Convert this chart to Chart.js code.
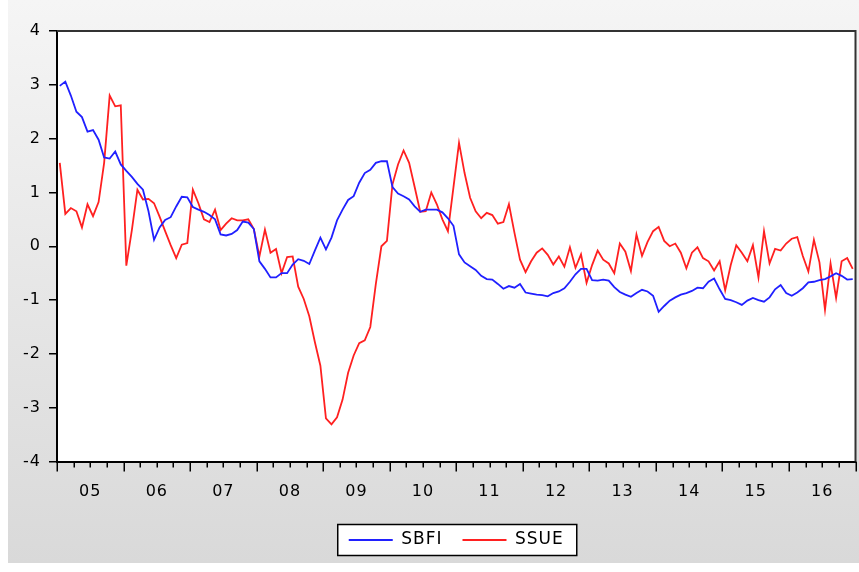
<!DOCTYPE html>
<html>
<head>
<meta charset="utf-8">
<script src="https://cdn.jsdelivr.net/npm/chart.js@4.4.1/dist/chart.umd.min.js"></script>
<style>
  html, body { margin: 0; padding: 0; background: #fff; }
  #wrap { width: 859px; height: 572px; }
</style>
</head>
<body>
<div id="wrap"><canvas id="chart" width="859" height="572"></canvas></div>
<script>
// Monthly series, 2005m1 .. 2016m12
const yearLabels = ['05', '06', '07', '08', '09', '10', '11', '12', '13', '14', '15', '16'];

const sbfi = [
  2.98, 3.06, 2.80, 2.50, 2.40, 2.13, 2.16, 1.98, 1.65, 1.63, 1.76, 1.52,
  1.40, 1.29, 1.16, 1.05, 0.65, 0.12, 0.35, 0.49, 0.54, 0.74, 0.92, 0.91,
  0.73, 0.68, 0.64, 0.58, 0.50, 0.22, 0.20, 0.23, 0.30, 0.46, 0.44, 0.32,
  -0.28, -0.42, -0.58, -0.58, -0.50, -0.50, -0.34, -0.24, -0.27, -0.33, -0.08, 0.16,
  -0.06, 0.16, 0.48, 0.68, 0.86, 0.93, 1.18, 1.36, 1.42, 1.55, 1.58, 1.58,
  1.10, 0.98, 0.93, 0.87, 0.74, 0.64, 0.68, 0.68, 0.68, 0.63, 0.52, 0.38,
  -0.15, -0.30, -0.37, -0.44, -0.55, -0.61, -0.62, -0.70, -0.79, -0.74, -0.77, -0.70,
  -0.86, -0.88, -0.90, -0.91, -0.93, -0.87, -0.84, -0.78, -0.66, -0.52, -0.42, -0.42,
  -0.63, -0.64, -0.62, -0.64, -0.76, -0.85, -0.90, -0.94, -0.87, -0.81, -0.84, -0.92,
  -1.22, -1.11, -1.01, -0.95, -0.90, -0.87, -0.83, -0.77, -0.78, -0.66, -0.60, -0.80,
  -0.98, -1.00, -1.04, -1.09, -1.01, -0.96, -1.00, -1.03, -0.95, -0.80, -0.72, -0.87,
  -0.92, -0.86, -0.78, -0.67, -0.66, -0.63, -0.61, -0.56, -0.50, -0.55, -0.62, -0.61
];

const ssue = [
  1.55, 0.60, 0.71, 0.65, 0.35, 0.78, 0.56, 0.82, 1.55, 2.80, 2.60, 2.62,
  -0.36, 0.30, 1.05, 0.87, 0.88, 0.80, 0.55, 0.28, 0.02, -0.22, 0.03, 0.06,
  1.05, 0.80, 0.50, 0.45, 0.68, 0.30, 0.42, 0.52, 0.48, 0.48, 0.50, 0.32,
  -0.19, 0.31, -0.12, -0.05, -0.50, -0.20, -0.19, -0.75, -0.98, -1.30, -1.78, -2.22,
  -3.20, -3.31, -3.18, -2.85, -2.35, -2.03, -1.80, -1.75, -1.50, -0.70, 0.00, 0.10,
  1.15, 1.52, 1.78, 1.55, 1.10, 0.64, 0.65, 1.00, 0.78, 0.50, 0.28, 1.10,
  1.92, 1.36, 0.90, 0.65, 0.52, 0.62, 0.58, 0.42, 0.45, 0.78, 0.25, -0.25,
  -0.48, -0.28, -0.12, -0.04, -0.16, -0.34, -0.19, -0.38, -0.02, -0.40, -0.15, -0.68,
  -0.35, -0.08, -0.25, -0.32, -0.50, 0.05, -0.10, -0.46, 0.22, -0.18, 0.08, 0.28,
  0.36, 0.10, 0.00, 0.05, -0.12, -0.41, -0.12, -0.02, -0.22, -0.28, -0.45, -0.28,
  -0.82, -0.35, 0.02, -0.12, -0.28, 0.02, -0.58, 0.28, -0.32, -0.05, -0.08, 0.05,
  0.14, 0.17, -0.18, -0.47, 0.12, -0.30, -1.18, -0.32, -0.96, -0.28, -0.22, -0.42
];

// each month sits in the middle of its slot on a 0..144 month axis
const toPoints = arr => arr.map((v, i) => ({ x: i + 0.5, y: v }));

Chart.defaults.font.family = '"DejaVu Sans", sans-serif';
Chart.defaults.font.size = 16;
Chart.defaults.color = '#000';

// gray window, white plot, legend frame, quarter/year tick marks
const eviewsFrame = {
  id: 'eviewsFrame',
  beforeUpdate(chart) {
    chart.ctx.letterSpacing = '1px';
  },
  beforeDraw(chart) {
    const ctx = chart.ctx;
    const a = chart.chartArea;
    ctx.save();
    ctx.fillStyle = '#fff';
    ctx.fillRect(0, 0, chart.width, chart.height);
    const g = ctx.createLinearGradient(0, 0, 0, 563);
    g.addColorStop(0, '#f5f5f5');
    g.addColorStop(1, '#d9d9d9');
    ctx.fillStyle = g;
    ctx.fillRect(8, 0, chart.width - 8, 563);
    ctx.fillStyle = '#fff';
    ctx.fillRect(a.left, a.top, a.right - a.left, a.bottom - a.top);

    const hb = chart.legend.legendHitBoxes;
    if (hb && hb.length) {
      const left = Math.min(...hb.map(b => b.left)) - 11;
      const right = Math.max(...hb.map(b => b.left + b.width)) + 13;
      const top = hb[0].top - 7;
      const bottom = hb[0].top + hb[0].height + 7;
      ctx.fillStyle = '#fff';
      ctx.fillRect(left, top, right - left, bottom - top);
      ctx.strokeStyle = '#000';
      ctx.lineWidth = 1.5;
      ctx.strokeRect(left, top, right - left, bottom - top);
    }
    ctx.restore();
  },
  afterDraw(chart) {
    const ctx = chart.ctx;
    const a = chart.chartArea;
    const xs = chart.scales.x;
    ctx.save();
    // top and right edges of the plot box
    ctx.strokeStyle = '#333';
    ctx.lineWidth = 2;
    ctx.beginPath();
    ctx.moveTo(a.left, a.top);
    ctx.lineTo(a.right, a.top);
    ctx.lineTo(a.right, a.bottom);
    ctx.stroke();
    // month-axis ticks: long at year starts, short at quarters
    ctx.strokeStyle = '#000';
    ctx.lineWidth = 1.5;
    ctx.beginPath();
    xs.ticks.forEach(t => {
      const px = Math.round(xs.getPixelForValue(t.value)) + 0.25;
      const len = t.value % 12 === 0 ? 10 : 6;
      ctx.moveTo(px, a.bottom);
      ctx.lineTo(px, a.bottom + len);
    });
    ctx.stroke();
    ctx.restore();
  }
};

new Chart(document.getElementById('chart'), {
  type: 'line',
  data: {
    datasets: [
      {
        label: 'SBFI',
        data: toPoints(sbfi),
        borderColor: '#2020ff',
        backgroundColor: '#2020ff',
        borderWidth: 1.8,
        pointRadius: 0,
        tension: 0
      },
      {
        label: 'SSUE',
        data: toPoints(ssue),
        borderColor: '#ff2020',
        backgroundColor: '#ff2020',
        borderWidth: 1.8,
        pointRadius: 0,
        tension: 0
      }
    ]
  },
  options: {
    responsive: false,
    devicePixelRatio: 1,
    animation: false,
    events: [],
    layout: { padding: { left: 0, right: 3.5, top: 31, bottom: 13.5 } },
    plugins: {
      tooltip: { enabled: false },
      legend: {
        position: 'bottom',
        fullSize: false,
        labels: {
          usePointStyle: true,
          pointStyle: 'line',
          pointStyleWidth: 44,
          padding: 20,
          color: '#000',
          font: { size: 17 }
        }
      }
    },
    scales: {
      x: {
        type: 'linear',
        min: 0,
        max: 144,
        afterFit: s => { s.height = 50; s.paddingLeft = 0; s.paddingRight = 0; },
        grid: { display: true, drawOnChartArea: false, drawTicks: false },
        border: { display: true, color: '#000', width: 2 },
        ticks: {
          stepSize: 3,
          maxTicksLimit: 100,
          autoSkip: false,
          maxRotation: 0,
          padding: 21,
          callback: v => (v % 12 === 6 ? yearLabels[(v - 6) / 12] : '')
        }
      },
      y: {
        min: -4,
        max: 4,
        afterFit: s => { s.width = 57; },
        grid: { display: true, drawOnChartArea: false, drawTicks: true, tickLength: 8, color: '#000', lineWidth: 1.5 },
        border: { display: true, color: '#000', width: 2 },
        ticks: { stepSize: 1, padding: 8 }
      }
    }
  },
  plugins: [eviewsFrame]
});
</script>
</body>
</html>
